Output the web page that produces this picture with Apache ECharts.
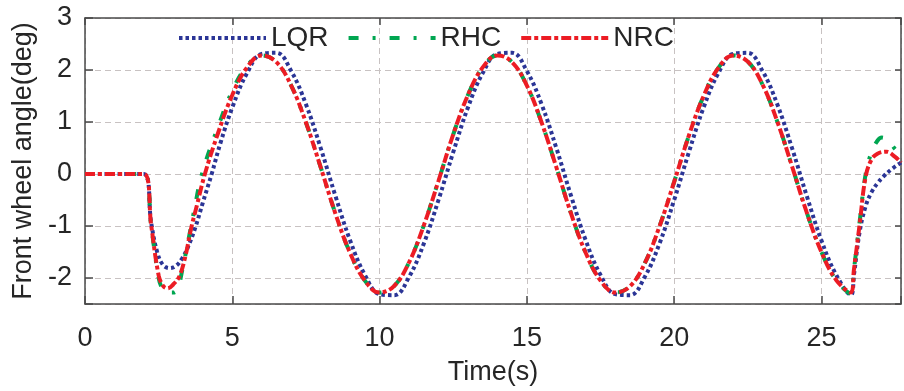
<!DOCTYPE html>
<html>
<head>
<meta charset="utf-8">
<script src="https://cdn.jsdelivr.net/npm/echarts@6/dist/echarts.min.js"></script>
<style>
html,body{margin:0;padding:0;background:#fff;}
#chart{width:904px;height:391px;}
</style>
</head>
<body>
<div id="chart"></div>
<script>
// ---- data ----
const seriesNames = ['LQR', 'RHC', 'NRC'];
const xTickLabels = [0, 5, 10, 15, 20, 25];
const yTickLabels = [-2, -1, 0, 1, 2, 3];

const lqrT = [0, 1, 2, 2.25, 2.45, 2.65, 2.88, 3.1, 3.3, 3.5, 3.75, 4.0, 4.3, 4.6, 5, 5.5, 6, 6.5, 7, 7.5, 8, 8.5, 9, 9.5, 10, 10.5, 11, 11.5, 12, 12.5, 13, 13.5, 14, 14.5, 15, 15.5, 16, 16.5, 17, 17.5, 18, 18.5, 19, 19.5, 20, 20.5, 21, 21.5, 22, 22.5, 23, 23.5, 24, 24.5, 25, 25.5, 26, 26.1, 26.3, 26.5, 26.7, 26.9, 27.1, 27.4, 27.7];
const lqrY = [0, 0, 0, -0.95, -1.5, -1.75, -1.81, -1.76, -1.62, -1.4, -1.02, -0.55, 0.0, 0.6, 1.28, 1.94, 2.31, 2.33, 1.98, 1.34, 0.50, -0.42, -1.28, -1.94, -2.31, -2.33, -1.98, -1.34, -0.50, 0.42, 1.28, 1.94, 2.31, 2.33, 1.98, 1.34, 0.50, -0.42, -1.28, -1.94, -2.31, -2.33, -1.98, -1.34, -0.50, 0.42, 1.28, 1.94, 2.31, 2.33, 1.98, 1.34, 0.50, -0.42, -1.28, -1.94, -2.32, -1.95, -1.1, -0.62, -0.35, -0.18, -0.05, 0.1, 0.22];

const rhcT = [0, 1, 2, 2.25, 2.5, 2.62, 2.75, 3.0, 3.15, 3.3, 3.5, 3.7, 3.97, 4.5, 5, 5.5, 6, 6.5, 7, 7.5, 8, 8.5, 9, 9.5, 10, 10.5, 11, 11.5, 12, 12.5, 13, 13.5, 14, 14.5, 15, 15.5, 16, 16.5, 17, 17.5, 18, 18.5, 19, 19.5, 20, 20.5, 21, 21.5, 22, 22.5, 23, 23.5, 24, 24.5, 25, 25.5, 26, 26.1, 26.3, 26.5, 26.7, 26.9, 27.05, 27.3, 27.5, 27.7];
const rhcY = [0, 0, 0, -1.02, -2.0, -2.2, -2.28, -2.28, -2.2, -1.85, -1.3, -0.72, 0.0, 0.88, 1.6, 2.08, 2.28, 2.15, 1.70, 0.99, 0.13, -0.76, -1.52, -2.05, -2.28, -2.15, -1.70, -0.99, -0.13, 0.76, 1.52, 2.05, 2.28, 2.15, 1.70, 0.99, 0.13, -0.76, -1.52, -2.05, -2.28, -2.16, -1.72, -1.01, -0.15, 0.74, 1.50, 2.04, 2.28, 2.16, 1.72, 1.01, 0.15, -0.74, -1.50, -2.04, -2.3, -1.85, -0.9, 0.0, 0.42, 0.64, 0.7, 0.62, 0.48, 0.36];

const nrcT = [0, 1, 2, 2.25, 2.5, 2.65, 2.8, 3.0, 3.2, 3.4, 3.6, 3.8, 4.07, 4.5, 5, 5.5, 6, 6.5, 7, 7.5, 8, 8.5, 9, 9.5, 10, 10.5, 11, 11.5, 12, 12.5, 13, 13.5, 14, 14.5, 15, 15.5, 16, 16.5, 17, 17.5, 18, 18.5, 19, 19.5, 20, 20.5, 21, 21.5, 22, 22.5, 23, 23.5, 24, 24.5, 25, 25.5, 26, 26.1, 26.3, 26.5, 26.7, 26.9, 27.2, 27.5, 27.7];
const nrcY = [0, 0, 0, -1.0, -1.95, -2.15, -2.2, -2.12, -1.97, -1.6, -1.05, -0.6, 0.0, 0.76, 1.52, 2.05, 2.28, 2.15, 1.70, 0.99, 0.13, -0.76, -1.52, -2.05, -2.28, -2.15, -1.70, -0.99, -0.13, 0.76, 1.52, 2.05, 2.28, 2.15, 1.70, 0.99, 0.13, -0.76, -1.52, -2.05, -2.28, -2.16, -1.72, -1.01, -0.15, 0.74, 1.50, 2.04, 2.28, 2.16, 1.72, 1.01, 0.15, -0.74, -1.50, -2.04, -2.28, -1.85, -0.95, -0.05, 0.28, 0.39, 0.43, 0.33, 0.22];

const zip = (t, y) => t.map((v, i) => [v, y[i]]);

const FONT = '"Liberation Sans", Arial, sans-serif';
const TXT = '#262626';
const AX = '#4a4a4a';
const GRIDC = '#c8c2c2';

const chart = echarts.init(document.getElementById('chart'), null, {renderer: 'canvas'});

const baseX = {type: 'value', min: 0, max: 27.7, interval: 5};
const baseY = {type: 'value', min: -2.5, max: 3};

chart.setOption({
  animation: false,
  backgroundColor: '#fff',
  textStyle: {fontFamily: FONT},
  grid: {left: 85, right: 2, top: 18, bottom: 86, containLabel: false},
  legend: {
    data: seriesNames,
    left: 172, top: 19,
    itemWidth: 87, itemHeight: 14, itemGap: 18,
    itemStyle: {opacity: 0, color: 'rgba(0,0,0,0)', borderWidth: 0},
    lineStyle: {width: 4},
    textStyle: {fontFamily: FONT, fontSize: 28, color: TXT}
  },
  xAxis: [
    Object.assign({}, baseX, {
      position: 'bottom',
      name: 'Time(s)', nameLocation: 'middle', nameGap: 55,
      nameTextStyle: {fontFamily: FONT, fontSize: 27, color: TXT},
      axisLine: {onZero: false, lineStyle: {color: AX, width: 1.5}},
      axisTick: {inside: true, length: 8, lineStyle: {color: AX, width: 1.5}},
      axisLabel: {
        margin: 21, fontFamily: FONT, fontSize: 27, color: TXT,
        formatter: v => xTickLabels.indexOf(v) >= 0 ? String(v) : ''
      },
      splitLine: {show: true, lineStyle: {color: GRIDC, width: 1, type: [6, 4]}}
    }),
    Object.assign({}, baseX, {
      position: 'top',
      axisLine: {onZero: false, lineStyle: {color: AX, width: 1.5}},
      axisTick: {inside: true, length: 7, lineStyle: {color: AX, width: 1.5}},
      axisLabel: {show: false},
      splitLine: {show: false}
    })
  ],
  yAxis: [
    Object.assign({}, baseY, {
      position: 'left',
      name: 'Front wheel angle(deg)', nameLocation: 'middle', nameGap: 48,
      nameTextStyle: {fontFamily: FONT, fontSize: 27, color: TXT},
      axisLine: {onZero: false, lineStyle: {color: AX, width: 1.5}},
      axisTick: {inside: true, length: 8, lineStyle: {color: AX, width: 1.5}},
      axisLabel: {
        margin: 13, fontFamily: FONT, fontSize: 27, color: TXT,
        formatter: v => yTickLabels.indexOf(v) >= 0 ? String(v) : ''
      },
      splitLine: {show: true, lineStyle: {color: GRIDC, width: 1, type: [6, 4]}}
    }),
    Object.assign({}, baseY, {
      position: 'right',
      axisLine: {onZero: false, lineStyle: {color: AX, width: 1.5}},
      axisTick: {inside: true, length: 6, lineStyle: {color: AX, width: 1.5}},
      axisLabel: {show: false},
      splitLine: {show: false}
    })
  ],
  series: [
    {
      name: 'LQR', type: 'line', data: zip(lqrT, lqrY),
      smooth: 0.4, symbol: 'none', showSymbol: false,
      lineStyle: {color: '#2b3596', width: 4, type: [3.5, 3], cap: 'butt'},
      itemStyle: {color: '#2b3596'}, z: 2
    },
    {
      name: 'RHC', type: 'line', data: zip(rhcT, rhcY),
      smooth: 0.4, symbol: 'none', showSymbol: false,
      lineStyle: {color: '#00a651', width: 4, type: [10, 14, 3, 14], cap: 'butt'},
      itemStyle: {color: '#00a651'}, z: 3
    },
    {
      name: 'NRC', type: 'line', data: zip(nrcT, nrcY),
      smooth: 0.4, symbol: 'none', showSymbol: false,
      lineStyle: {color: '#ec1c24', width: 4, type: [10, 3, 4, 3], cap: 'butt'},
      itemStyle: {color: '#ec1c24'}, z: 4
    }
  ]
});
</script>
</body>
</html>
